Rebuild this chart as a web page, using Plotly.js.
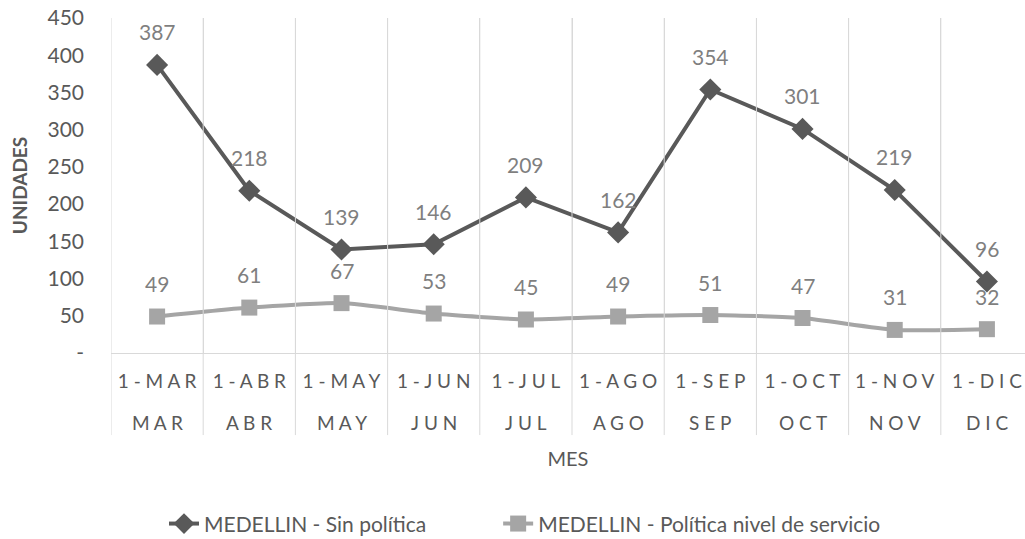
<!DOCTYPE html>
<html>
<head>
<meta charset="utf-8">
<script src="https://cdn.plot.ly/plotly-3.0.1.min.js"></script>
<style>html,body{margin:0;padding:0;background:#fff;}#chart{width:1025px;height:539px;}</style>
</head>
<body>
<div id="chart"></div>
<script>
const monthsOuter = ["MAR","ABR","MAY","JUN","JUL","AGO","SEP","OCT","NOV","DIC"];
const monthsInner = ["1-MAR","1-ABR","1-MAY","1-JUN","1-JUL","1-AGO","1-SEP","1-OCT","1-NOV","1-DIC"];
const sinPolitica = [387,218,139,146,209,162,354,301,219,96];
const politicaNivel = [49,61,67,53,45,49,51,47,31,32];
const yTickVals = [0,50,100,150,200,250,300,350,400,450];
const yTickText = ["-","50","100","150","200","250","300","350","400","450"];
const seriesNames = ["MEDELLIN - Sin política","MEDELLIN - Política nivel de servicio"];

function spaced(s){ return s.split("").join(" "); }
const xInner = monthsInner.map(spaced);
const xOuter = monthsOuter.map(spaced);

const FONT = "Lato, 'Open Sans', sans-serif";
const GRID = "#d9d9d9";

const traces = [
  {
    x: xInner, y: sinPolitica, type: "scatter", mode: "lines+markers",
    name: seriesNames[0], legend: "legend",
    line: {color: "#595959", width: 4},
    marker: {symbol: "diamond", size: 17, color: "#595959"},
    hoverinfo: "skip"
  },
  {
    x: xInner, y: politicaNivel, type: "scatter", mode: "lines+markers",
    name: seriesNames[1], legend: "legend2",
    line: {color: "#a5a5a5", width: 4, shape: "spline", smoothing: 0.5},
    marker: {symbol: "square", size: 16, color: "#a5a5a5"},
    hoverinfo: "skip"
  }
];

const annotations = [];
[sinPolitica, politicaNivel].forEach(arr => {
  arr.forEach((v, i) => {
    annotations.push({
      x: xInner[i], xref: "x", y: v, yref: "y",
      text: String(v), showarrow: false, yshift: 33,
      font: {family: FONT, size: 21, color: "#7f7f7f"}
    });
  });
});
// outer category level (month) below the date labels
xOuter.forEach((m, i) => {
  annotations.push({
    x: xInner[i], xref: "x", y: 0, yref: "paper", yanchor: "middle",
    text: m, showarrow: false, yshift: -69,
    font: {family: FONT, size: 19, color: "#595959"}
  });
});

// group dividers through the label area at category boundaries
const shapes = xInner.map((c, i) => ({
  type: "line", xref: "x", yref: "paper",
  x0: i - 0.5, x1: i - 0.5, y0: 1, y1: -0.245,
  line: {color: GRID, width: 1}
}));

const legendBase = {
  orientation: "h", xanchor: "left", xref: "container",
  yref: "container", y: 0.028, yanchor: "middle",
  font: {family: FONT, size: 21, color: "#595959"},
  bgcolor: "rgba(0,0,0,0)"
};

const layout = {
  width: 1025, height: 539,
  margin: {l: 111, r: 0, t: 18, b: 186},
  paper_bgcolor: "#ffffff", plot_bgcolor: "#ffffff",
  font: {family: FONT, color: "#595959"},
  showlegend: true,
  legend: Object.assign({}, legendBase, {x: 0.160}),
  legend2: Object.assign({}, legendBase, {x: 0.486}),
  xaxis: {
    type: "category",
    categoryorder: "array", categoryarray: xInner,
    range: [-0.5, 9.413],
    tickson: "boundaries",
    showgrid: true, gridcolor: GRID, gridwidth: 1,
    showline: true, linecolor: GRID, linewidth: 1,
    ticks: "", ticklabelstandoff: 11,
    tickfont: {family: FONT, size: 19, color: "#595959"},
    title: {text: "MES", font: {family: FONT, size: 20, color: "#595959"}, standoff: 61},
    zeroline: false, fixedrange: true
  },
  yaxis: {
    range: [0, 450],
    tickvals: yTickVals, ticktext: yTickText,
    showgrid: false, zeroline: false, showline: false,
    ticks: "", ticklabelstandoff: 26,
    tickfont: {family: FONT, size: 21, color: "#595959"},
    title: {text: "UNIDADES", font: {family: FONT, size: 19, color: "#595959", weight: "bold"}, standoff: 14},
    fixedrange: true
  },
  annotations: annotations,
  shapes: shapes
};

Plotly.newPlot("chart", traces, layout, {displayModeBar: false, staticPlot: true});
</script>
</body>
</html>
